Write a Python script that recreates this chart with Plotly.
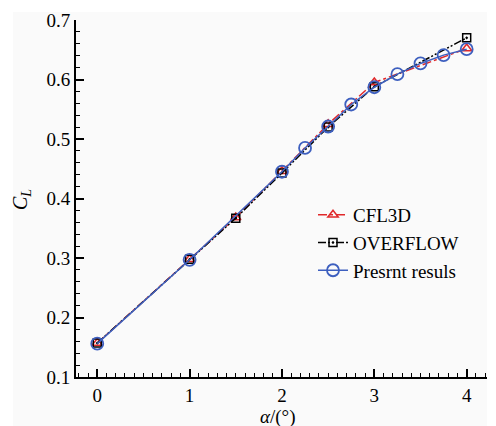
import plotly.graph_objects as go

# Data
alpha_cfl3d = [0, 1, 1.5, 2, 2.5, 3, 4]
cl_cfl3d = [0.157, 0.298, 0.368, 0.446, 0.525, 0.595, 0.652]

alpha_overflow = [0, 1, 1.5, 2, 2.5, 3, 4]
cl_overflow = [0.157, 0.298, 0.367, 0.443, 0.520, 0.588, 0.670]

alpha_present = [0, 1, 2, 2.25, 2.5, 2.75, 3, 3.25, 3.5, 3.75, 4]
cl_present = [0.156, 0.297, 0.445, 0.485, 0.521, 0.558, 0.587, 0.609, 0.627, 0.641, 0.651]

x_tickvals = [0, 1, 2, 3, 4]
x_ticktext = ["0", "1", "2", "3", "4"]
x_halfticks = [0.5, 1.5, 2.5, 3.5]
y_tickvals = [0.1, 0.2, 0.3, 0.4, 0.5, 0.6, 0.7]
y_ticktext = ["0.1", "0.2", "0.3", "0.4", "0.5", "0.6", "0.7"]

FONT = "Liberation Serif"
RED = "#e0282a"
BLUE = "#3d5fbf"

fig = go.Figure()
fig.add_trace(go.Scatter(
    x=alpha_cfl3d, y=cl_cfl3d, name="CFL3D", mode="lines+markers",
    line=dict(color=RED, width=1.5, dash="dashdot"),
    marker=dict(symbol="triangle-up-open", size=9, color=RED, line=dict(width=1.5)),
    cliponaxis=False,
))
fig.add_trace(go.Scatter(
    x=alpha_overflow, y=cl_overflow, name="OVERFLOW", mode="lines+markers",
    line=dict(color="black", width=1.5, dash="8px,2px,2px,2px,2px,2px"),
    marker=dict(symbol="square-open-dot", size=8, color="black", line=dict(width=1.5)),
    cliponaxis=False,
))
fig.add_trace(go.Scatter(
    x=alpha_present, y=cl_present, name="Presrnt resuls", mode="lines+markers",
    line=dict(color=BLUE, width=1.5),
    marker=dict(symbol="circle-open", size=12, color=BLUE, line=dict(width=1.8)),
    cliponaxis=False,
))

L, R, T, B = 76, 9, 20, 49
W, H = 496, 426
pw = W - L - R
ph = H - T - B

def px_x(p):
    return (p - L) / pw

def px_y(p):
    return (H - B - p) / ph

XRANGE = [-0.23, 4.22]

fig.update_layout(
    width=W, height=H,
    margin=dict(l=L, r=R, t=T, b=B, autoexpand=False),
    paper_bgcolor="white",
    plot_bgcolor="rgba(0,0,0,0)",
    font=dict(family=FONT, size=19, color="black"),
    showlegend=True,
    legend=dict(
        x=px_x(313), y=px_y(196), xanchor="left", yanchor="top",
        bgcolor="rgba(0,0,0,0)", font=dict(family=FONT, size=19),
        tracegroupgap=0,
    ),
    xaxis=dict(
        range=XRANGE, showgrid=False, zeroline=False, automargin=False,
        showline=True, linecolor="black", linewidth=2,
        ticks="inside", ticklen=8, tickwidth=1.5, tickcolor="black",
        tickvals=x_tickvals, ticktext=x_ticktext,
        minor=dict(ticks="inside", ticklen=4, tickwidth=1, tickcolor="black",
                   dtick=0.1, tick0=0, showgrid=False),
        tickfont=dict(family=FONT, size=19),
    ),
    xaxis2=dict(
        range=XRANGE, overlaying="x", side="bottom", anchor="y",
        showgrid=False, zeroline=False, automargin=False, showline=False,
        ticks="inside", ticklen=8, tickwidth=1.5, tickcolor="black",
        tickvals=x_halfticks, showticklabels=False,
    ),
    yaxis=dict(
        range=[0.1, 0.7], showgrid=False, zeroline=False, automargin=False,
        showline=True, linecolor="black", linewidth=2,
        ticks="inside", ticklen=8, tickwidth=1.5, tickcolor="black",
        tickvals=y_tickvals, ticktext=y_ticktext,
        minor=dict(ticks="inside", ticklen=4, tickwidth=1, tickcolor="black",
                   dtick=0.02, tick0=0.1, showgrid=False),
        tickfont=dict(family=FONT, size=19),
    ),
    shapes=[dict(
        type="rect", xref="paper", yref="paper", layer="below",
        x0=px_x(13), x1=1.0, y0=px_y(H), y1=px_y(12),
        fillcolor="#fafafa", line=dict(width=0),
    )],
    annotations=[
        dict(
            text="<i>C</i><sub><i>L</i></sub>", xref="paper", yref="paper",
            x=px_x(21), y=px_y(200), showarrow=False, textangle=-90,
            font=dict(family=FONT, size=20), xanchor="center", yanchor="middle",
        ),
        dict(
            text="<i>α</i>/(°)", xref="paper", yref="paper",
            x=px_x(278), y=px_y(404), showarrow=False,
            font=dict(family=FONT, size=19), xanchor="center", yanchor="top",
        ),
    ],
)

fig.write_html("out.html", post_script="document.body.style.margin='0';",
               config={"displayModeBar": False})
